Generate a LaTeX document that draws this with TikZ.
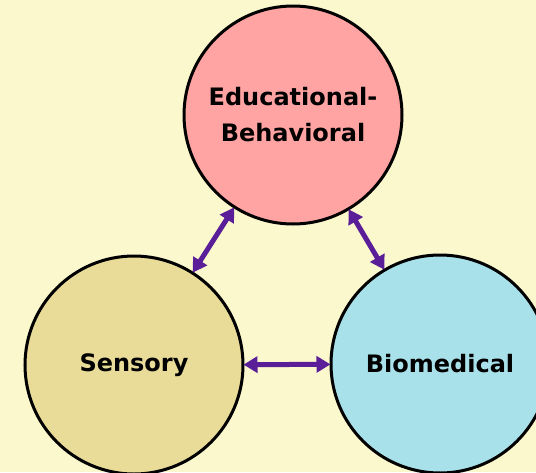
\documentclass[tikz,border=0pt]{standalone}
\usepackage{fontspec}
\setmainfont{DejaVu Sans}
\usepackage{tikz}
\usetikzlibrary{arrows.meta}

\definecolor{bgyellow}{HTML}{FCF8CE}
\definecolor{edupink}{HTML}{FFA3A3}
\definecolor{senskhaki}{HTML}{E9DC98}
\definecolor{biocyan}{HTML}{A8E1EA}
\definecolor{linkpurple}{HTML}{5A1E98}

\begin{document}
\begin{tikzpicture}[x=1pt, y=-1pt,
    area/.style = {circle, draw=black, line width=3pt, minimum size=218pt,
                   inner sep=0pt, align=center,
                   font=\fontsize{24}{36}\selectfont\bfseries},
    link/.style = {line width=5pt, color=linkpurple,
                   {Triangle[length=14pt, width=16pt]}-{Triangle[length=14pt, width=16pt]},
                   shorten <=-1pt, shorten >=-1pt}]
        % page and background
        \useasboundingbox (0,0) rectangle (536,472);
        \fill[bgyellow] (0,0) rectangle (536,472);

        % the three areas
        \node[area, fill=edupink] (edu) at (293,115) {Educational-\\Behavioral};
        \node[area, fill=senskhaki] (sens) at (134,365) {Sensory};
        \node[area, fill=biocyan] (bio) at (440,364) {Biomedical};

        % links between them
        \draw[link] (sens) -- (edu);
        \draw[link] (edu) -- (bio);
        \draw[link] (sens) -- (bio);
      \end{tikzpicture}
\end{document}
